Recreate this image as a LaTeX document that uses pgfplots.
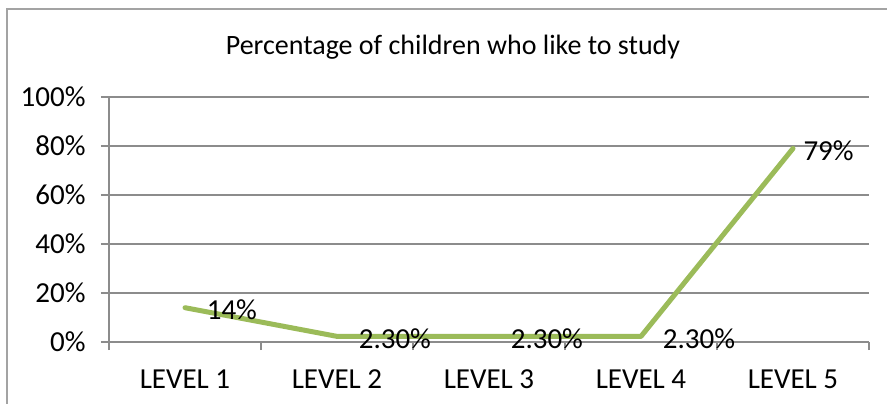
\documentclass[border=0pt]{standalone}
\usepackage{pgfplots}
\pgfplotsset{compat=1.18}
\usepackage{fontspec}
\setmainfont{Carlito}
\definecolor{linegreen}{HTML}{9BBB59}
\definecolor{gridgray}{HTML}{8C8C8C}
\tikzset{label node/.style={anchor=west, yshift=-2bp, text=black,
  font=\fontsize{29bp}{34bp}\selectfont}}
\begin{document}
\begin{tikzpicture}[x=1bp,y=1bp]
  \useasboundingbox (0,0) rectangle (887,403);
  % chart frame
  \draw[gridgray!80, line width=1.2bp] (7,-5) -- (7,394) -- (892,394);
  \node[font=\fontsize{28bp}{33bp}\selectfont] at (453,356) {Percentage of children who like to study};
  \begin{axis}[
    at={(109bp,61bp)}, anchor=origin,
    scale only axis, width=760bp, height=245bp,
    xmin=0.5, xmax=5.5, ymin=0, ymax=100,
    axis x line*=bottom, axis y line*=left,
    axis line style={gridgray, line width=1.5bp, -},
    xtick={1,2,3,4,5},
    xticklabels={LEVEL 1,LEVEL 2,LEVEL 3,LEVEL 4,LEVEL 5},
    major x tick style={draw=none},
    minor xtick={0.5,1.5,2.5,3.5,4.5,5.5},
    minor tick length=8bp,
    minor x tick style={gridgray, line width=1.5bp},
    ytick={0,20,40,60,80,100},
    yticklabel={\pgfmathprintnumber{\tick}\%},
    ytick style={gridgray, line width=1.5bp},
    major tick length=8bp,
    tick align=outside,
    ymajorgrids, grid style={gridgray, line width=1.5bp},
    tick label style={font=\fontsize{29bp}{34bp}\selectfont},
    /pgf/number format/assume math mode=true,
    xticklabel style={yshift=-16bp},
    yticklabel style={xshift=-12bp},
    clip=false,
  ]
    \addplot[linegreen, line width=5bp, line join=round, line cap=round,
      nodes near coords, point meta=explicit symbolic,
      every node near coord/.style={label node, xshift=16bp}]
      coordinates {
        (1,14) [14\%]
        (2,2.3) [2.30\%]
        (3,2.3) [2.30\%]
        (4,2.3) [2.30\%]
        (5,79) []
      };
    % the last label sits closer to its point to stay inside the chart
    \addplot[draw=none, nodes near coords, point meta=explicit symbolic,
      every node near coord/.style={label node, xshift=7bp}]
      coordinates {(5,79) [79\%]};
  \end{axis}
\end{tikzpicture}
\end{document}
